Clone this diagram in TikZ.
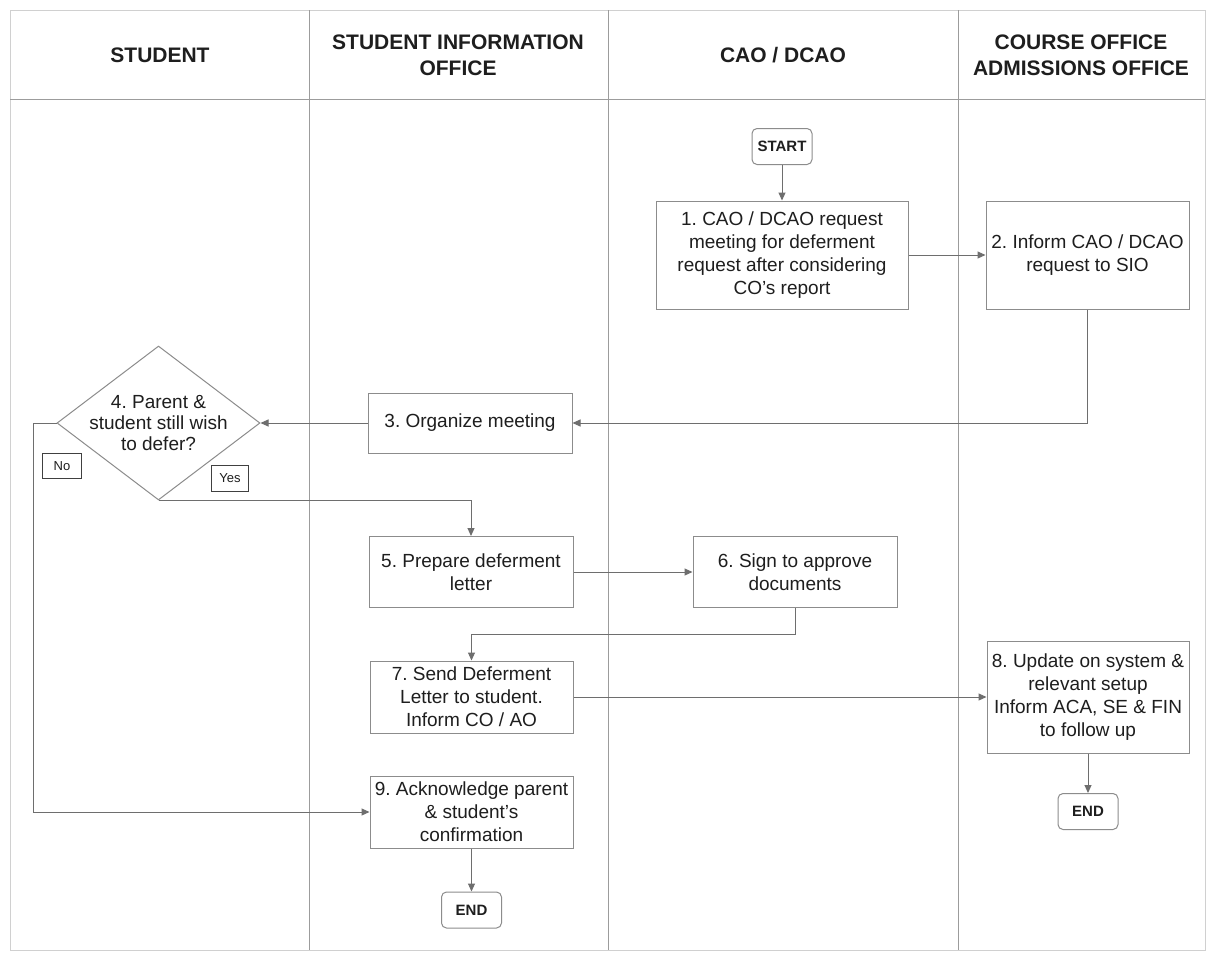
\documentclass[tikz,border=0pt]{standalone}
\usepackage{fontspec}
\setmainfont{Liberation Sans}
\usetikzlibrary{arrows.meta,shapes.geometric}
\frenchspacing

\definecolor{lanegray}{HTML}{9C9C9C}
\definecolor{framegray}{HTML}{D0D0D0}
\definecolor{boxgray}{HTML}{8C8C8C}
\definecolor{arrowgray}{HTML}{6E6E6E}
\definecolor{ink}{HTML}{1E1E1E}

\begin{document}
\begin{tikzpicture}[x=1pt,y=-1pt,
  lane/.style={draw=lanegray, line width=1pt},
  frame/.style={draw=framegray, line width=1pt},
  head/.style={font=\fontsize{21}{26}\selectfont\bfseries, align=center, text=ink},
  proc/.style={draw=boxgray, line width=1pt, fill=white, align=center, text=ink,
    font=\fontsize{19}{23}\selectfont, inner sep=0pt},
  term/.style={draw=boxgray, line width=1pt, rounded corners=5pt, fill=white,
    font=\fontsize{15}{18}\selectfont\bfseries, text=ink, inner sep=0pt,
    minimum width=60pt, minimum height=36pt},
  decision/.style={diamond, draw=boxgray, line width=1pt, fill=white, inner sep=0pt,
    minimum width=203pt, minimum height=154pt},
  dtext/.style={align=center, text=ink, font=\fontsize{19}{21}\selectfont, inner sep=0pt},
  flow/.style={draw=arrowgray, line width=1pt, -{Triangle[length=8pt,width=7pt]}},
  tag/.style={draw=ink!85, line width=0.8pt, fill=white, text=ink,
    font=\fontsize{13}{15}\selectfont, inner sep=0pt}
]
\useasboundingbox (0,0) rectangle (1211,953);
\fill[white] (0,0) rectangle (1211,953);

% swimlane frame, header rule and lane dividers
\draw[frame] (10,10) rectangle (1205,950);
\draw[lane] (10,99) -- (1205,99);
\draw[lane] (309,10) -- (309,950);
\draw[lane] (608,10) -- (608,950);
\draw[lane] (958,10) -- (958,950);

% lane titles
\node[head] (hstu) at (160,55) {STUDENT};
\node[head] (hsio) at (458,55) {STUDENT INFORMATION\\OFFICE};
\node[head] (hcao) at (783,55) {CAO / DCAO};
\node[head] (hco)  at (1081,55) {COURSE OFFICE\\ADMISSIONS OFFICE};

% process steps
\node[term] (start) at (782,146.5) {START};
\node[proc, minimum width=252pt, minimum height=108pt] (b1) at (782,255)
  {1. CAO / DCAO request\\meeting for deferment\\request after considering\\CO's report};
\node[proc, minimum width=203pt, minimum height=108pt] (b2) at (1087.5,255)
  {2. Inform CAO / DCAO\\request to SIO};
\node[proc, minimum width=204pt, minimum height=60pt] (b3) at (470,423)
  {3. Organize meeting};
\node[decision] (d4) at (158.5,423) {};
\node[dtext] (d4t) at (d4.center) {4. Parent \&\\student still wish\\to defer?};
\node[proc, minimum width=204pt, minimum height=71pt] (b5) at (471,572)
  {5. Prepare deferment\\letter};
\node[proc, minimum width=204pt, minimum height=71pt] (b6) at (795,572)
  {6. Sign to approve\\documents};
\node[proc, minimum width=203pt, minimum height=72pt] (b7) at (471.5,697)
  {7. Send Deferment\\Letter to student.\\Inform CO / AO};
\node[proc, minimum width=202pt, minimum height=112pt] (b8) at (1088,697)
  {8. Update on system \&\\relevant setup\\Inform ACA, SE \& FIN\\to follow up};
\node[term] (end1) at (1088,811.5) {END};
\node[proc, minimum width=203pt, minimum height=72pt] (b9) at (471.5,812)
  {9. Acknowledge parent\\\& student's\\confirmation};
\node[term] (end2) at (471.5,910) {END};

% decision labels
\node[tag, minimum width=39pt, minimum height=25pt] (tno) at (62,466) {No};
\node[tag, minimum width=37pt, minimum height=26pt] (tyes) at (230,478) {Yes};

% connectors
\coordinate (noturn) at (33,423);
\coordinate (turn67) at (795,634);
\draw[flow] (start) -- (b1);
\draw[flow] (b1.east) -- (b2.west);
\draw[flow] (b2.south) |- (b3.east);
\draw[flow] (b3.west) -- (d4.east);
\draw[flow] (d4.south) -| (b5.north);
\draw[flow] (d4.west) -- (noturn) |- (b9.west);
\draw[flow] (b5.east) -- (b6.west);
\draw[flow] (b6.south) -- (turn67) -| (b7.north);
\draw[flow] (b7.east) -- (b8.west);
\draw[flow] (b8) -- (end1);
\draw[flow] (b9) -- (end2);
\end{tikzpicture}
\end{document}
